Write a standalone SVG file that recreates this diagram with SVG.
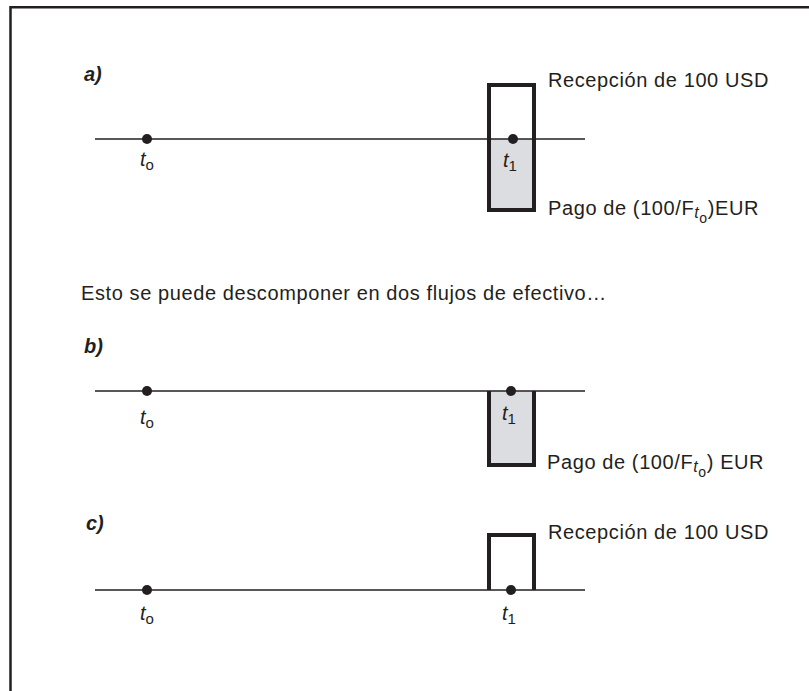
<svg xmlns="http://www.w3.org/2000/svg" width="809" height="691" viewBox="0 0 809 691">
<style>
text{font-family:"Liberation Sans",Arial,sans-serif;font-size:20px;fill:#231f20}
.txt{letter-spacing:0.6px}
.lbl{font-weight:bold;font-style:italic;font-size:20px}
.t{font-style:italic;font-size:20px}
.sub{font-size:15px;font-style:normal}
.st{font-style:italic;font-size:16px}
.so{font-size:14px}
.axis{stroke:#231f20;stroke-width:1.6;fill:none}
.box{stroke:#231f20;stroke-width:4;fill:none}
.dot{fill:#231f20}
.gray{fill:#dcdde0}
</style>
<rect width="809" height="691" fill="#fff"/>
<path d="M10.5,691 V7.2 H809" fill="none" stroke="#231f20" stroke-width="2.5"/>

<g id="panel-a">
<text class="lbl" x="84" y="81">a)</text>
<rect class="gray" x="489" y="139" width="45" height="71"/>
<line class="axis" x1="95" y1="139" x2="585" y2="139"/>
<rect class="box" x="489" y="85" width="45" height="125"/>
<circle class="dot" cx="147" cy="139" r="5"/>
<circle class="dot" cx="513" cy="139" r="5"/>
<text class="t" x="140" y="166">t<tspan class="sub" dy="4">o</tspan></text>
<text class="t" x="503" y="167">t<tspan class="sub" dy="4">1</tspan></text>
<text class="txt" x="548" y="87">Recepción de 100 USD</text>
<text class="txt" x="548" y="215">Pago de (100/F<tspan class="st" dy="3">t</tspan><tspan class="so" dy="5">o</tspan><tspan dy="-8">)EUR</tspan></text>
</g>

<text class="txt" x="81" y="300">Esto se puede descomponer en dos flujos de efectivo…</text>

<g id="panel-b">
<text class="lbl" x="84" y="353">b)</text>
<rect class="gray" x="489" y="391" width="45" height="73"/>
<line class="axis" x1="95" y1="391" x2="585" y2="391"/>
<path class="box" d="M489,391 V465 H534 V391"/>
<circle class="dot" cx="147" cy="391" r="5"/>
<circle class="dot" cx="511" cy="391" r="5"/>
<text class="t" x="140" y="424">t<tspan class="sub" dy="4">o</tspan></text>
<text class="t" x="502" y="420">t<tspan class="sub" dy="4">1</tspan></text>
<text class="txt" x="547" y="469">Pago de (100/F<tspan class="st" dy="3">t</tspan><tspan class="so" dy="5">o</tspan><tspan dy="-8">) EUR</tspan></text>
</g>

<g id="panel-c">
<text class="lbl" x="86" y="530">c)</text>
<line class="axis" x1="95" y1="590" x2="585" y2="590"/>
<path class="box" d="M489,590 V535 H534 V590"/>
<circle class="dot" cx="147" cy="590" r="5"/>
<circle class="dot" cx="511" cy="590" r="5"/>
<text class="t" x="140" y="620">t<tspan class="sub" dy="4">o</tspan></text>
<text class="t" x="502" y="620">t<tspan class="sub" dy="4">1</tspan></text>
<text class="txt" x="548" y="539">Recepción de 100 USD</text>
</g>
</svg>
